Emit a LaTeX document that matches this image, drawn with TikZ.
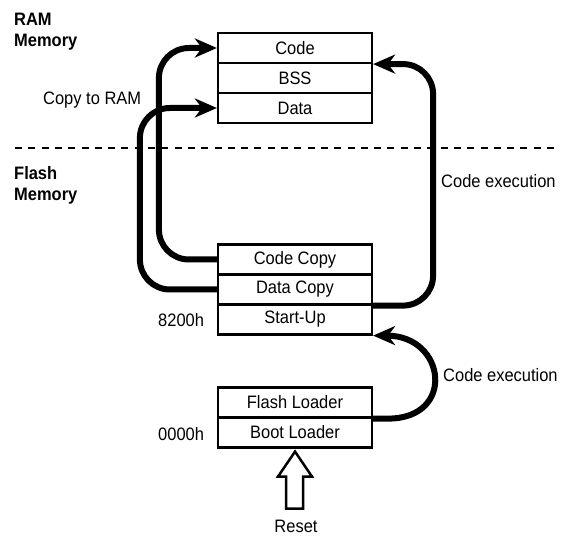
\documentclass[tikz,border=0pt]{standalone}
\usepackage{fontspec}
\setmainfont{Liberation Sans}[FakeStretch=0.915]
\usetikzlibrary{arrows.meta,calc}
\begin{document}
\begin{tikzpicture}[x=1pt,y=1pt,
  every node/.style={font=\fontsize{18}{21}\selectfont, inner sep=0pt},
  memrow/.style={draw, line width=2.2pt, minimum width=154pt, minimum height=30pt},
  lbl/.style={anchor=base west},
  blbl/.style={anchor=base west, font=\fontsize{18}{21}\selectfont\bfseries},
  flow/.style={line width=6pt, -{Stealth[length=22pt,width=19pt,inset=7pt]}, rounded corners=30pt},
  divline/.style={line width=2pt, dash pattern=on 7pt off 6.3pt}
]
\useasboundingbox (0,0) rectangle (562,-537);

% RAM memory
\node[memrow] (code) at (295,-48) {Code};
\node[memrow] (bss)  at (295,-78) {BSS};
\node[memrow] (data) at (295,-108) {Data};

% Flash memory
\node[memrow] (ccopy)   at (295,-259.5) {Code Copy};
\node[memrow] (dcopy)   at (295,-289.5) {Data Copy};
\node[memrow] (startup) at (295,-319.5) {Start-Up};

\node[memrow] (floader) at (295,-402.5) {Flash Loader};
\node[memrow] (boot)    at (295,-432.5) {Boot Loader};

% labels
\node[blbl] (ramA) at (14,-26) {RAM};
\node[blbl] (ramB) at (14,-46.5) {Memory};
\node[blbl] (flA) at (14,-180) {Flash};
\node[blbl] (flB) at (14,-200.5) {Memory};
\node[lbl] (copy) at (43,-105) {Copy to RAM};
\node[lbl] (ex1) at (441,-188) {Code execution};
\node[lbl] (ex2) at (443,-381) {Code execution};
\node[lbl] (a8200) at (158,-326) {8200h};
\node[lbl] (a0000) at (158,-440) {0000h};
\node[anchor=base] (reset) at (296,-532) {Reset};

% separator
\coordinate (sepL) at (15,-148);
\coordinate (sepR) at (556,-148);
\draw[divline] (sepL) -- (sepR);

% copy arrows
\draw[flow] (ccopy.west) -- ++(-58,0) |- (code.west);
\draw[flow] (dcopy.west) -- ++(-77,0) |- (data.west);

% code execution arrows
\draw[flow] (dcopy.south east) -- ++(60,0) |- (code.south east);
\draw[line width=6pt, -{Stealth[length=22pt,width=19pt,inset=7pt]}]
  (floader.south east) -- ++(15,0) .. controls +(68,0) and +(73,0) .. (startup.south east);

% reset arrow
\coordinate (rtip) at ($(boot.south)+(0,-3)$);
\draw[line width=2.5pt, line join=miter]
  (rtip) -- ++(17,-25) -- ++(-9,0) -- ++(0,-32) -- ++(-17,0) -- ++(0,32) -- ++(-8,0) -- cycle;
\end{tikzpicture}
\end{document}
